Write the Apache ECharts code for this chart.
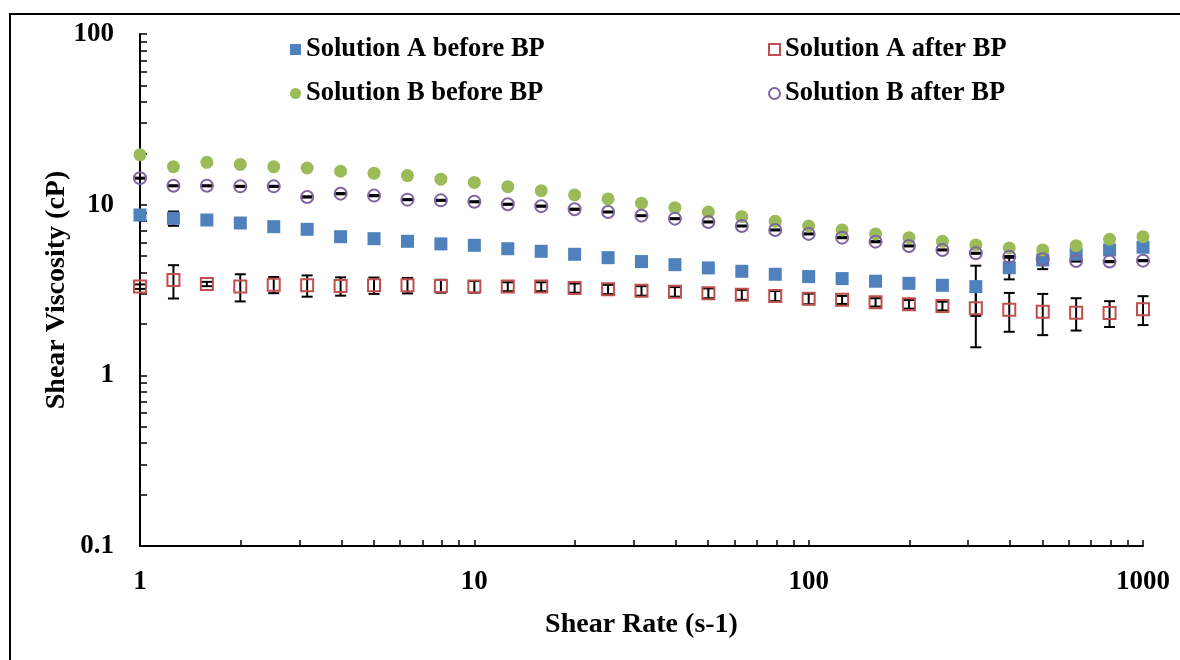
<!DOCTYPE html>
<html>
<head>
<meta charset="utf-8">
<script src="https://cdn.jsdelivr.net/npm/echarts@6/dist/echarts.min.js"></script>
<style>
html, body { margin: 0; padding: 0; background: #fff; }
#chart { width: 1180px; height: 660px; }
</style>
</head>
<body>
<div id="chart"></div>
<script>
// shear rate points (s-1), 10 per decade
var shearRate = [1, 1.259, 1.585, 1.995, 2.512, 3.162, 3.981, 5.012, 6.31, 7.943,
    10, 12.59, 15.85, 19.95, 25.12, 31.62, 39.81, 50.12, 63.1, 79.43,
    100, 125.9, 158.5, 199.5, 251.2, 316.2, 398.1, 501.2, 631, 794.3, 1000];

var aBefore = [8.7, 8.32, 8.13, 7.81, 7.43, 7.17, 6.49, 6.32, 6.10, 5.89,
    5.78, 5.52, 5.33, 5.12, 4.89, 4.64, 4.45, 4.26, 4.07, 3.91,
    3.79, 3.69, 3.56, 3.46, 3.37, 3.31, 4.27, 4.74, 5.12, 5.43, 5.63];
var aBeforeErr = [0.2, 0.8, 0.2, 0.3, 0.2, 0.2, 0.3, 0.2, 0.2, 0.2,
    0.2, 0.2, 0.2, 0.2, 0.2, 0.2, 0.2, 0.2, 0.15, 0.15,
    0.15, 0.15, 0.15, 0.15, 0.15, 1.08, 0.62, 0.55, 0.3, 0.3, 0.3];

var aAfter = [3.31, 3.62, 3.43, 3.31, 3.40, 3.37, 3.34, 3.37, 3.37, 3.34,
    3.31, 3.31, 3.31, 3.25, 3.19, 3.13, 3.09, 3.03, 2.97, 2.92,
    2.81, 2.77, 2.68, 2.61, 2.55, 2.47, 2.42, 2.36, 2.33, 2.32, 2.44];
var aAfterErr = [0.1, 0.8, 0.1, 0.6, 0.37, 0.48, 0.41, 0.37, 0.35, 0.29,
    0.26, 0.2, 0.2, 0.2, 0.2, 0.2, 0.2, 0.2, 0.2, 0.2,
    0.2, 0.15, 0.15, 0.15, 0.15, 1.01, 0.62, 0.64, 0.5, 0.4, 0.47];

var bBefore = [19.6, 16.7, 17.7, 17.2, 16.7, 16.4, 15.7, 15.3, 14.8, 14.1,
    13.5, 12.75, 12.08, 11.4, 10.8, 10.2, 9.6, 9.06, 8.5, 8.0,
    7.5, 7.11, 6.74, 6.41, 6.10, 5.81, 5.58, 5.43, 5.75, 6.27, 6.49];
var bBeforeErr = [0.3, 0.3, 0.3, 0.3, 0.3, 0.3, 0.3, 0.3, 0.3, 0.3,
    0.3, 0.25, 0.25, 0.25, 0.2, 0.2, 0.2, 0.2, 0.2, 0.15,
    0.15, 0.15, 0.15, 0.12, 0.12, 0.12, 0.12, 0.12, 0.12, 0.12, 0.12];

var bAfter = [14.3, 12.9, 12.9, 12.8, 12.8, 11.1, 11.6, 11.3, 10.7, 10.6,
    10.4, 10.05, 9.8, 9.4, 9.06, 8.62, 8.28, 7.92, 7.5, 7.11,
    6.74, 6.41, 6.07, 5.73, 5.43, 5.19, 4.96, 4.79, 4.68, 4.64, 4.70];
var bAfterErr = [0.1, 0.1, 0.1, 0.1, 0.1, 0.1, 0.1, 0.1, 0.08, 0.08,
    0.08, 0.08, 0.08, 0.08, 0.06, 0.06, 0.06, 0.06, 0.05, 0.05,
    0.05, 0.05, 0.05, 0.04, 0.04, 0.04, 0.04, 0.04, 0.04, 0.04, 0.04];

var FONT = 'Liberation Serif';

function pairs(vals) {
    return shearRate.map(function (x, i) { return [x, vals[i]]; });
}

function errorBars(name, vals, errs, z) {
    return {
        type: 'custom',
        name: name,
        z: z,
        silent: true,
        encode: {x: 0, y: [1, 2]},
        data: shearRate.map(function (x, i) {
            return [x, vals[i] - errs[i], vals[i] + errs[i]];
        }),
        renderItem: function (params, api) {
            var top = api.coord([api.value(0), api.value(2)]);
            var bot = api.coord([api.value(0), api.value(1)]);
            var hw = 5.5;
            var st = {stroke: '#000', lineWidth: 2};
            return {
                type: 'group',
                children: [
                    {type: 'line', shape: {x1: top[0], y1: top[1], x2: bot[0], y2: bot[1]}, style: st},
                    {type: 'line', shape: {x1: top[0] - hw, y1: top[1], x2: top[0] + hw, y2: top[1]}, style: st},
                    {type: 'line', shape: {x1: bot[0] - hw, y1: bot[1], x2: bot[0] + hw, y2: bot[1]}, style: st}
                ]
            };
        }
    };
}

function legendItem(name, icon, left, top, style) {
    return {
        left: left,
        top: top,
        padding: 0,
        itemWidth: 11,
        itemHeight: 11,
        textStyle: {fontFamily: FONT, fontWeight: 'bold', fontSize: 26.5, color: '#000'},
        data: [{name: name, icon: icon, itemStyle: style}]
    };
}

var axisText = {fontFamily: FONT, fontWeight: 'bold', fontSize: 27, color: '#000'};
var nameText = {fontFamily: FONT, fontWeight: 'bold', fontSize: 28, color: '#000'};

var myChart = echarts.init(document.getElementById('chart'));
var option = {
    backgroundColor: '#fff',
    animation: false,
    graphic: [{
        type: 'rect',
        shape: {x: 10, y: 14, width: 1200, height: 700},
        style: {fill: 'none', stroke: '#000', lineWidth: 2}
    }],
    grid: {left: 140, right: 37, top: 34, bottom: 114},
    legend: [
        legendItem('Solution A before BP', 'rect', 290, 36, {color: '#4F81BD'}),
        legendItem('Solution A after BP', 'rect', 768, 36, {color: '#fff', borderColor: '#C0504D', borderWidth: 2}),
        legendItem('Solution B before BP', 'circle', 290, 80, {color: '#9BBB59'}),
        legendItem('Solution B after BP', 'circle', 768, 80, {color: '#fff', borderColor: '#8064A2', borderWidth: 2})
    ],
    xAxis: {
        type: 'log',
        logBase: 10,
        min: 1,
        max: 1000,
        name: 'Shear Rate (s-1)',
        nameLocation: 'middle',
        nameGap: 65,
        nameMoveOverlap: false,
        nameTextStyle: nameText,
        axisLine: {lineStyle: {color: '#000', width: 2}},
        axisTick: {inside: true, length: 6, lineStyle: {color: '#000', width: 1.5}},
        minorTick: {show: true, splitNumber: 9, length: 6, lineStyle: {color: '#000', width: 1.5}},
        axisLabel: Object.assign({margin: 23, formatter: function (v) { return String(v); }}, axisText),
        splitLine: {show: false}
    },
    yAxis: {
        type: 'log',
        logBase: 10,
        min: 0.1,
        max: 100,
        name: 'Shear Viscosity (cP)',
        nameLocation: 'middle',
        nameGap: 69,
        nameMoveOverlap: false,
        nameTextStyle: nameText,
        axisLine: {lineStyle: {color: '#000', width: 2}},
        axisTick: {inside: true, length: 7, lineStyle: {color: '#000', width: 1.5}},
        minorTick: {show: true, splitNumber: 9, length: 7, lineStyle: {color: '#000', width: 1.5}},
        axisLabel: Object.assign({margin: 26, formatter: function (v) { return String(v); }}, axisText),
        splitLine: {show: false}
    },
    series: [
        errorBars('errA1', aBefore, aBeforeErr, 1),
        errorBars('errA2', aAfter, aAfterErr, 1),
        errorBars('errB1', bBefore, bBeforeErr, 1),
        errorBars('errB2', bAfter, bAfterErr, 1),
        {
            name: 'Solution A before BP', type: 'scatter', z: 2,
            symbol: 'rect', symbolSize: 13,
            itemStyle: {color: '#4F81BD', opacity: 1},
            data: pairs(aBefore)
        },
        {
            name: 'Solution A after BP', type: 'scatter', z: 3,
            symbol: 'rect', symbolSize: 12,
            itemStyle: {color: 'rgba(0,0,0,0)', borderColor: '#C0504D', borderWidth: 2, opacity: 1},
            data: pairs(aAfter)
        },
        {
            name: 'Solution B before BP', type: 'scatter', z: 4,
            symbol: 'circle', symbolSize: 13,
            itemStyle: {color: '#9BBB59', opacity: 1},
            data: pairs(bBefore)
        },
        {
            name: 'Solution B after BP', type: 'scatter', z: 5,
            symbol: 'circle', symbolSize: 12,
            itemStyle: {color: 'rgba(0,0,0,0)', borderColor: '#8064A2', borderWidth: 2, opacity: 1},
            data: pairs(bAfter)
        }
    ]
};
myChart.setOption(option);
</script>
</body>
</html>
